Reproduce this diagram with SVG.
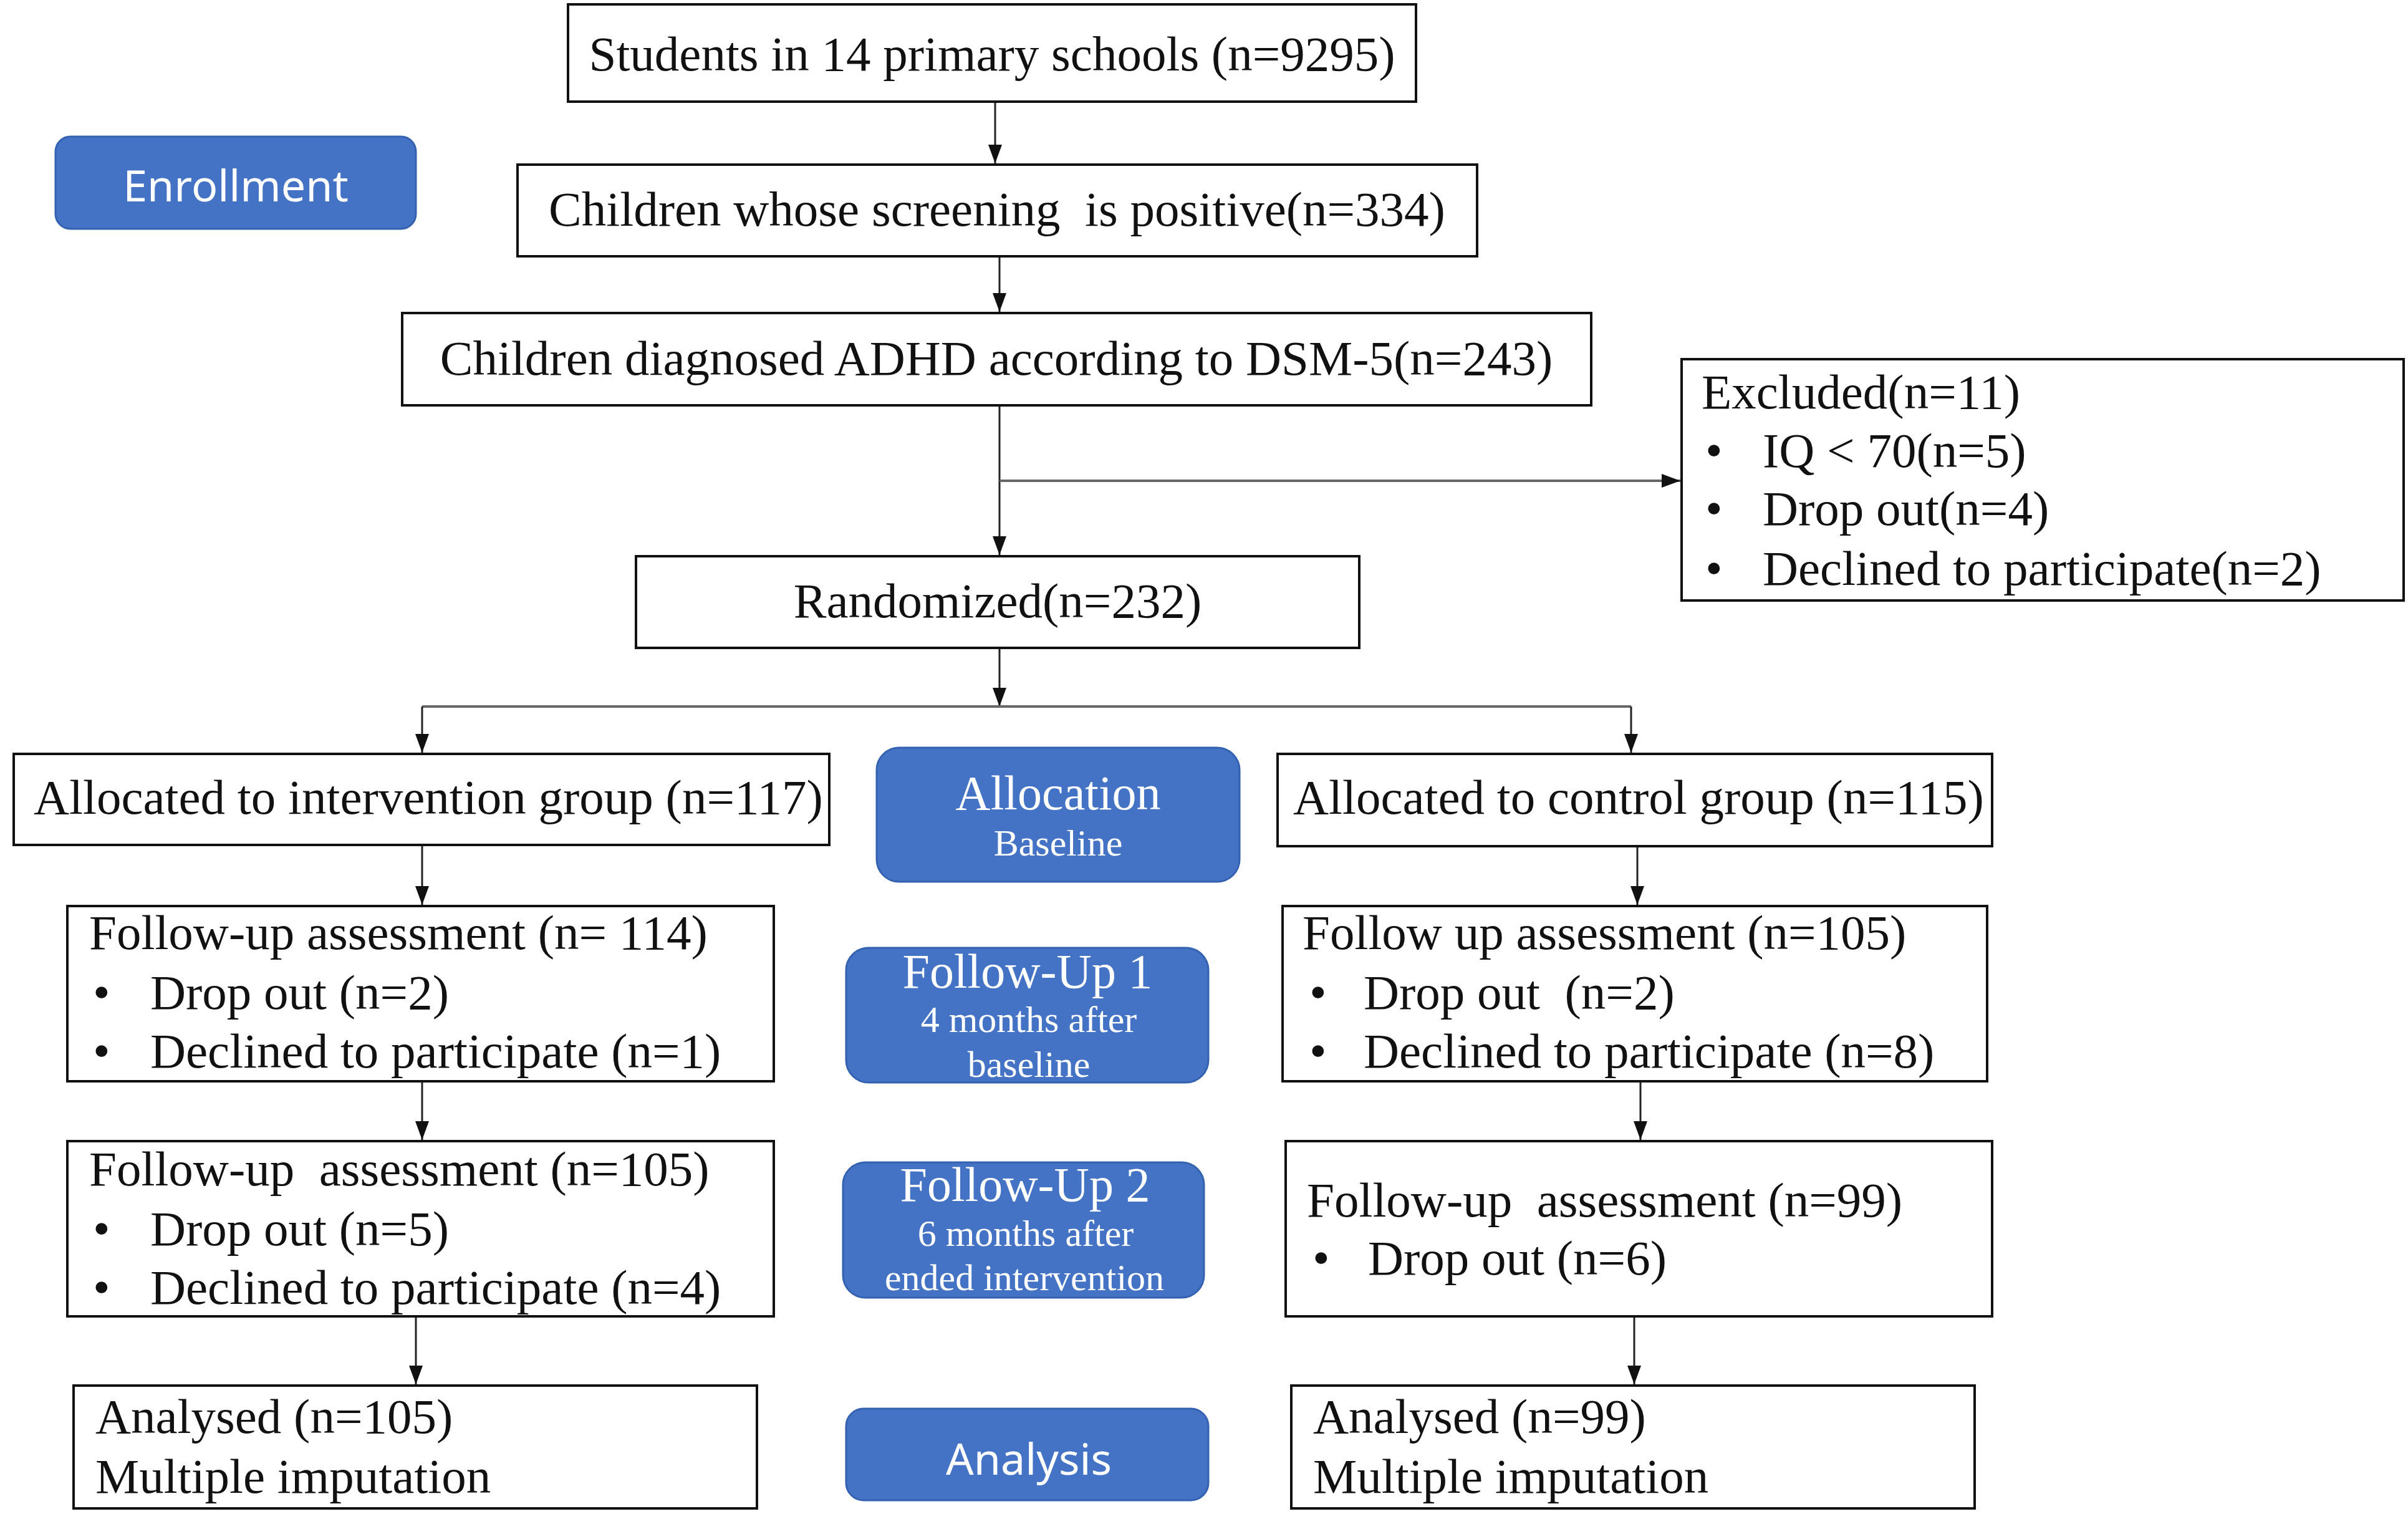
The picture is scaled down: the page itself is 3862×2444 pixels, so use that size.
<svg xmlns="http://www.w3.org/2000/svg" width="3862" height="2444" viewBox="0 0 3862 2444">
<style>
.box{fill:#fff;stroke:#111;stroke-width:4}
.blue{fill:#4472C4;stroke:#3562b0;stroke-width:3}
.t{font-family:"Liberation Serif","Times New Roman",serif;font-size:79px;fill:#111}
.c{text-anchor:middle}
.wb{font-family:"Liberation Serif","Times New Roman",serif;fill:#fff;text-anchor:middle}
.ws{font-family:"Noto Sans","Liberation Sans",sans-serif;font-size:70px;fill:#fff;text-anchor:middle}
.ln{fill:none;stroke:#222;stroke-width:3}
.lg{fill:none;stroke:#666;stroke-width:4}
</style>
<defs>
<marker id="ah" markerUnits="userSpaceOnUse" markerWidth="30" markerHeight="22" refX="30" refY="11" orient="auto">
<path d="M0,0 L30,11 L0,22 z" fill="#111"/>
</marker>
</defs>
<rect width="3862" height="2444" fill="#fff"/>

<g id="connectors">
<line class="ln" x1="1596" y1="163" x2="1596" y2="262" marker-end="url(#ah)"/>
<line class="ln" x1="1603" y1="411" x2="1603" y2="500" marker-end="url(#ah)"/>
<line class="ln" x1="1603" y1="650" x2="1603" y2="890" marker-end="url(#ah)"/>
<line class="lg" x1="1603" y1="771" x2="2695" y2="771" marker-end="url(#ah)"/>
<line class="ln" x1="1603" y1="1039" x2="1603" y2="1133" marker-end="url(#ah)"/>
<line class="lg" x1="677" y1="1133" x2="2616" y2="1133"/>
<line class="ln" x1="677" y1="1133" x2="677" y2="1207" marker-end="url(#ah)"/>
<line class="ln" x1="2616" y1="1133" x2="2616" y2="1207" marker-end="url(#ah)"/>
<line class="ln" x1="677" y1="1355" x2="677" y2="1451" marker-end="url(#ah)"/>
<line class="ln" x1="2626" y1="1357" x2="2626" y2="1451" marker-end="url(#ah)"/>
<line class="ln" x1="677" y1="1734" x2="677" y2="1828" marker-end="url(#ah)"/>
<line class="ln" x1="2631" y1="1734" x2="2631" y2="1828" marker-end="url(#ah)"/>
<line class="ln" x1="667" y1="2111" x2="667" y2="2220" marker-end="url(#ah)"/>
<line class="ln" x1="2621" y1="2111" x2="2621" y2="2220" marker-end="url(#ah)"/>
</g>

<g id="enrollment">
<rect class="blue" x="89" y="219" width="578" height="148" rx="24"/>
<text class="ws" x="378" y="323">Enrollment</text>
</g>

<g id="students">
<rect class="box" x="911" y="7" width="1360" height="156"/>
<text class="t c" x="1591" y="113">Students in 14 primary schools (n=9295)</text>
</g>

<g id="screening">
<rect class="box" x="830" y="264" width="1539" height="147"/>
<text class="t c" x="1599" y="362" xml:space="preserve">Children whose screening  is positive(n=334)</text>
</g>

<g id="diagnosed">
<rect class="box" x="645" y="502" width="1907" height="148"/>
<text class="t c" x="1598" y="601">Children diagnosed ADHD according to DSM-5(n=243)</text>
</g>

<g id="excluded">
<rect class="box" x="2697" y="576" width="1158" height="387"/>
<text class="t" x="2729" y="655">Excluded(n=11)</text>
<text class="t" x="2735" y="749">•</text>
<text class="t" x="2827" y="749">IQ &lt; 70(n=5)</text>
<text class="t" x="2735" y="842">•</text>
<text class="t" x="2827" y="842">Drop out(n=4)</text>
<text class="t" x="2735" y="938">•</text>
<text class="t" x="2827" y="938">Declined to participate(n=2)</text>
</g>

<g id="randomized">
<rect class="box" x="1020" y="892" width="1160" height="147"/>
<text class="t c" x="1600" y="990">Randomized(n=232)</text>
</g>

<g id="alloc-intervention">
<rect class="box" x="22" y="1209" width="1308" height="146"/>
<text class="t" x="54" y="1305">Allocated to intervention group (n=117)</text>
</g>

<g id="allocation">
<rect class="blue" x="1406" y="1199" width="582" height="215" rx="36"/>
<text class="wb" x="1697" y="1298" font-size="78">Allocation</text>
<text class="wb" x="1697" y="1372" font-size="60">Baseline</text>
</g>

<g id="alloc-control">
<rect class="box" x="2049" y="1209" width="1146" height="148"/>
<text class="t" x="2074" y="1305">Allocated to control group (n=115)</text>
</g>

<g id="fu1-left">
<rect class="box" x="108" y="1453" width="1133" height="281"/>
<text class="t" x="143" y="1522">Follow-up assessment (n= 114)</text>
<text class="t" x="149" y="1618">•</text>
<text class="t" x="241" y="1618">Drop out (n=2)</text>
<text class="t" x="149" y="1712">•</text>
<text class="t" x="241" y="1712">Declined to participate (n=1)</text>
</g>

<g id="followup1">
<rect class="blue" x="1357" y="1520" width="581" height="216" rx="36"/>
<text class="wb" x="1648" y="1584" font-size="78">Follow-Up 1</text>
<text class="wb" x="1650" y="1655" font-size="60">4 months after</text>
<text class="wb" x="1650" y="1727" font-size="60">baseline</text>
</g>

<g id="fu1-right">
<rect class="box" x="2057" y="1453" width="1130" height="281"/>
<text class="t" x="2089" y="1522">Follow up assessment (n=105)</text>
<text class="t" x="2100" y="1618">•</text>
<text class="t" x="2187" y="1618" xml:space="preserve">Drop out  (n=2)</text>
<text class="t" x="2100" y="1712">•</text>
<text class="t" x="2187" y="1712">Declined to participate (n=8)</text>
</g>

<g id="fu2-left">
<rect class="box" x="108" y="1830" width="1133" height="281"/>
<text class="t" x="143" y="1901" xml:space="preserve">Follow-up  assessment (n=105)</text>
<text class="t" x="149" y="1997">•</text>
<text class="t" x="241" y="1997">Drop out (n=5)</text>
<text class="t" x="149" y="2091">•</text>
<text class="t" x="241" y="2091">Declined to participate (n=4)</text>
</g>

<g id="followup2">
<rect class="blue" x="1352" y="1864" width="579" height="217" rx="36"/>
<text class="wb" x="1644" y="1926" font-size="78">Follow-Up 2</text>
<text class="wb" x="1645" y="1998" font-size="60">6 months after</text>
<text class="wb" x="1643" y="2069" font-size="60">ended intervention</text>
</g>

<g id="fu2-right">
<rect class="box" x="2062" y="1830" width="1133" height="281"/>
<text class="t" x="2096" y="1951" xml:space="preserve">Follow-up  assessment (n=99)</text>
<text class="t" x="2105" y="2044">•</text>
<text class="t" x="2194" y="2044">Drop out (n=6)</text>
</g>

<g id="analysed-left">
<rect class="box" x="118" y="2222" width="1096" height="197"/>
<text class="t" x="153" y="2298">Analysed (n=105)</text>
<text class="t" x="153" y="2394">Multiple imputation</text>
</g>

<g id="analysis">
<rect class="blue" x="1357" y="2259" width="581" height="147" rx="28"/>
<text class="ws" x="1650" y="2365">Analysis</text>
</g>

<g id="analysed-right">
<rect class="box" x="2071" y="2222" width="1096" height="197"/>
<text class="t" x="2106" y="2298">Analysed (n=99)</text>
<text class="t" x="2106" y="2394">Multiple imputation</text>
</g>
</svg>
